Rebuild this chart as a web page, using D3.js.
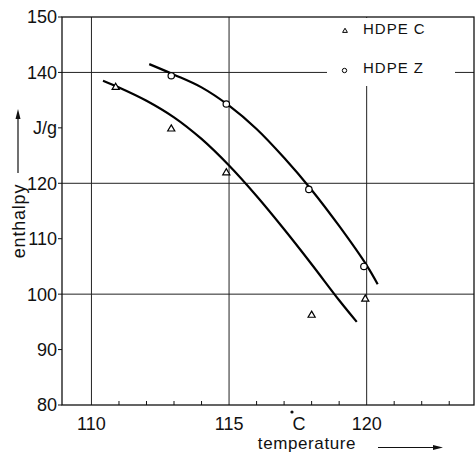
<!DOCTYPE html>
<html lang="en">
<head>
<meta charset="utf-8">
<script src="https://d3js.org/d3.v7.min.js"></script>
<style>
  body { margin: 0; background: #fff; }
  svg text { font-family: "Liberation Sans", Arial, sans-serif; fill: #111; }
</style>
</head>
<body>
<svg width="475" height="453"></svg>
<script>
// ---- data ----
var xGrid = [110, 115, 120];
var xLabels = ["110", "115", "120"];
var xMinor = [111, 112, 113, 114, 116, 117, 118, 119, 121, 122, 123];
var yTicks = [150, 140, 130, 120, 110, 100, 90, 80];
var yLabels = ["150", "140", "J/g", "120", "110", "100", "90", "80"];
var yGrid = [140, 120, 100];
var seriesNames = ["HDPE C", "HDPE Z"];

// measured points
var cTemp = [110.88, 112.9, 114.9, 118.0, 119.95];
var cVal  = [137.3, 129.8, 121.9, 96.2, 99.1];
var zTemp = [112.9, 114.9, 117.9, 119.9];
var zVal  = [139.4, 134.3, 118.9, 105.0];

// fitted curves
var cFitTemp = [110.42, 111, 112, 113, 114, 115, 116, 117, 118, 119, 119.64];
var cFitVal  = [138.5, 137.3, 134.9, 131.9, 128.0, 123.2, 117.7, 111.7, 105.4, 98.9, 95.0];
var zFitTemp = [112.1, 113, 114, 115, 116, 117, 118, 119, 120, 120.4];
var zFitVal  = [141.5, 139.6, 137.3, 134.0, 129.8, 124.6, 118.8, 112.3, 105.2, 101.8];

var svg = d3.select("svg");

var x = d3.scaleLinear().domain([108.93, 123.9]).range([62, 474]);
var y = d3.scaleLinear().domain([80, 150]).range([405, 17]);

var x0 = x.range()[0], x1 = x.range()[1], yTop = y.range()[1], yBot = y.range()[0];

// grid
var grid = svg.append("g").attr("stroke", "#222").attr("stroke-width", 1);
grid.selectAll(".vg").data(xGrid).enter().append("line")
    .attr("x1", function(d) { return x(d); }).attr("x2", function(d) { return x(d); })
    .attr("y1", yTop).attr("y2", yBot);
grid.selectAll(".hg").data(yGrid).enter().append("line")
    .attr("x1", x0).attr("x2", x1)
    .attr("y1", function(d) { return y(d); }).attr("y2", function(d) { return y(d); });

// blank area for the legend
svg.append("rect").attr("x", 327).attr("y", yTop + 1).attr("width", 128).attr("height", 68).attr("fill", "#fff");

// frame
svg.append("rect").attr("x", x0).attr("y", yTop).attr("width", x1 - x0).attr("height", yBot - yTop)
    .attr("fill", "none").attr("stroke", "#111").attr("stroke-width", 1.3);

// minor ticks on the temperature axis (inside)
svg.append("g").selectAll("line").data(xMinor).enter().append("line")
    .attr("x1", function(d) { return x(d); }).attr("x2", function(d) { return x(d); })
    .attr("y1", yBot).attr("y2", yBot - 4)
    .attr("stroke", "#111").attr("stroke-width", 1);

// y ticks (outside) and labels
var yt = svg.append("g");
yt.selectAll("line").data(yTicks).enter().append("line")
    .attr("x1", x0 - 4).attr("x2", x0)
    .attr("y1", function(d) { return y(d); }).attr("y2", function(d) { return y(d); })
    .attr("stroke", "#111").attr("stroke-width", 1);
yt.selectAll("text").data(yTicks).enter().append("text")
    .attr("x", x0 - 5).attr("y", function(d) { return y(d); })
    .attr("dy", "0.36em").attr("text-anchor", "end")
    .style("font-size", "18px")
    .text(function(d, i) { return yLabels[i]; });

// x labels
svg.append("g").selectAll("text").data(xGrid).enter().append("text")
    .attr("x", function(d) { return x(d); }).attr("y", 430)
    .attr("text-anchor", "middle").style("font-size", "18px")
    .text(function(d, i) { return xLabels[i]; });

svg.append("text").attr("x", 299).attr("y", 430).attr("text-anchor", "middle")
    .style("font-size", "18px").text("C");
svg.append("circle").attr("cx", 292).attr("cy", 412).attr("r", 1.6).attr("fill", "#111");

// axis titles with arrows
svg.append("text").attr("x", 307).attr("y", 449).attr("text-anchor", "middle")
    .style("font-size", "17px").style("letter-spacing", "0.6px").text("temperature");
svg.append("line").attr("x1", 378).attr("x2", 436).attr("y1", 447.5).attr("y2", 447.5)
    .attr("stroke", "#111").attr("stroke-width", 1.2);
svg.append("path").attr("d", "M443,447.5 L433,445 L433,450 Z").attr("fill", "#111");

svg.append("text").attr("transform", "translate(25,221) rotate(-90)").attr("text-anchor", "middle")
    .style("font-size", "18px").style("letter-spacing", "0.8px").text("enthalpy");
svg.append("line").attr("x1", 18).attr("x2", 18).attr("y1", 173).attr("y2", 117)
    .attr("stroke", "#111").attr("stroke-width", 1.2);
svg.append("path").attr("d", "M18,109 L15.5,119 L20.5,119 Z").attr("fill", "#111");

// fitted curves
var line = d3.line()
    .x(function(d) { return x(d[0]); })
    .y(function(d) { return y(d[1]); })
    .curve(d3.curveCatmullRom);

svg.append("path").datum(d3.zip(cFitTemp, cFitVal)).attr("d", line)
    .attr("fill", "none").attr("stroke", "#000").attr("stroke-width", 2.2);
svg.append("path").datum(d3.zip(zFitTemp, zFitVal)).attr("d", line)
    .attr("fill", "none").attr("stroke", "#000").attr("stroke-width", 2.2);

// markers
var tri = d3.symbol().type(d3.symbolTriangle).size(22);
svg.append("g").selectAll("path").data(d3.zip(cTemp, cVal)).enter().append("path")
    .attr("d", tri)
    .attr("transform", function(d) { return "translate(" + x(d[0]) + "," + y(d[1]) + ")"; })
    .attr("fill", "#fff").attr("stroke", "#000").attr("stroke-width", 1.2);
svg.append("g").selectAll("circle").data(d3.zip(zTemp, zVal)).enter().append("circle")
    .attr("cx", function(d) { return x(d[0]); })
    .attr("cy", function(d) { return y(d[1]); })
    .attr("r", 3.2)
    .attr("fill", "#fff").attr("stroke", "#000").attr("stroke-width", 1.2);

// legend
var lg = svg.append("g");
lg.append("path").attr("d", d3.symbol().type(d3.symbolTriangle).size(10))
    .attr("transform", "translate(345,31)")
    .attr("fill", "#fff").attr("stroke", "#000").attr("stroke-width", 1);
lg.append("circle").attr("cx", 344.5).attr("cy", 70.5).attr("r", 2.2)
    .attr("fill", "#fff").attr("stroke", "#000").attr("stroke-width", 1);
lg.selectAll("text").data(seriesNames).enter().append("text")
    .attr("x", 363).attr("y", function(d, i) { return i === 0 ? 33.5 : 72.5; })
    .style("font-size", "15px").style("letter-spacing", "1px")
    .text(function(d) { return d; });
</script>
</body>
</html>
